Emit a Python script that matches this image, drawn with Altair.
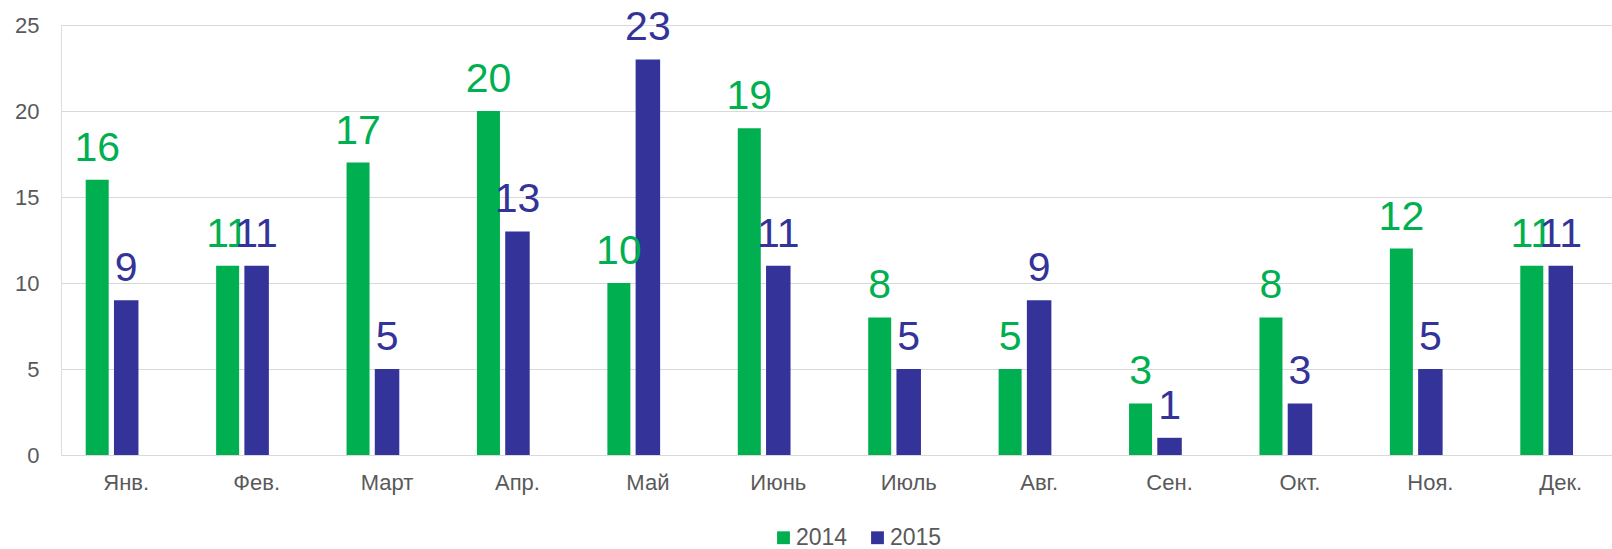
import altair as alt
import pandas as pd

months = ["Янв.", "Фев.", "Март", "Апр.", "Май", "Июнь", "Июль", "Авг.", "Сен.", "Окт.", "Ноя.", "Дек."]
v2014 = [16, 11, 17, 20, 10, 19, 8, 5, 3, 8, 12, 11]
v2015 = [9, 11, 5, 13, 23, 11, 5, 9, 1, 3, 5, 11]
years = ["2014", "2015"]
colors = ["#00B050", "#333399"]
y_ticks = [0, 5, 10, 15, 20, 25]

rows = []
for m, a, b in zip(months, v2014, v2015):
    rows.append({"month": m, "year": "2014", "value": a})
    rows.append({"month": m, "year": "2015", "value": b})
df = pd.DataFrame(rows)

FONT = "Liberation Sans"
GREY = "#595959"

x = alt.X(
    "month:N", sort=months,
    scale=alt.Scale(range=[0, 1565], paddingInner=0, paddingOuter=0),
    axis=alt.Axis(title=None, labelAngle=0, ticks=False, domain=False,
                  labelFontSize=22, labelColor=GREY, labelPadding=17, labelFont=FONT),
)
y = alt.Y(
    "value:Q", scale=alt.Scale(domain=[0, 25]),
    axis=alt.Axis(title=None, values=y_ticks, ticks=False, domain=False,
                  gridColor="#d9d9d9", gridWidth=1, labelFontSize=22,
                  labelColor=GREY, labelPadding=22, labelFont=FONT),
)
color = alt.Color(
    "year:N", scale=alt.Scale(domain=years, range=colors),
    legend=alt.Legend(title=None, orient="none", legendX=711, legendY=501,
                      direction="horizontal", symbolType="square", symbolSize=165,
                      symbolStrokeWidth=0, labelFontSize=23, labelColor=GREY,
                      labelFont=FONT, columnPadding=18, labelOffset=1),
)

base = alt.Chart(df)
offsets = {"2014": (-29, 23), "2015": (0, 24.5)}
layers = []
for yr in years:
    off, w = offsets[yr]
    sub = base.transform_filter(alt.datum.year == yr)
    layers.append(sub.mark_bar(width=w, xOffset=off).encode(x=x, y=y, color=color))
for yr in years:
    off, w = offsets[yr]
    sub = base.transform_filter(alt.datum.year == yr)
    layers.append(
        sub.mark_text(xOffset=off, dy=-19, baseline="alphabetic", fontSize=41, font=FONT)
        .encode(x=x, y=y, text="value:Q", color=color)
    )

chart = alt.layer(*layers).properties(
    width=1551, height=430,
    padding={"left": 61, "top": 25, "right": 0, "bottom": 94},
    autosize=alt.AutoSizeParams(type="none"),
).configure_view(stroke=None).configure(font=FONT)

chart.save("out.html", embed_options={"renderer": "svg", "actions": False})
